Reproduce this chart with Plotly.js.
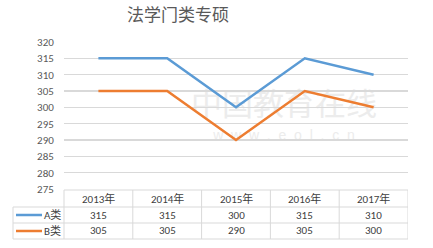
<!DOCTYPE html>
<html>
<head>
<meta charset="utf-8">
<script src="https://cdn.plot.ly/plotly-3.0.1.min.js"></script>
<style>html,body{margin:0;padding:0;background:#fff;}#chart{width:433px;height:248px;}</style>
</head>
<body>
<div id="chart"></div>
<script>
const years = ['2013年', '2014年', '2015年', '2016年', '2017年'];
const seriesA = [315, 315, 300, 315, 310];
const seriesB = [305, 305, 290, 305, 300];
const seriesNames = ['A类', 'B类'];
const seriesColors = ['#5b9bd5', '#ed7d31'];

const W = 433, H = 248;
const L = 64, R = 408, T = 42, B = 189;
const pw = R - L, ph = B - T;
const px = p => (p - L) / pw;
const py = p => (B - p) / ph;
const gridC = '#d9d9d9';
const txtC = '#404040';
const font = 'Calibri, "Liberation Sans", "Noto Sans CJK SC", sans-serif';

const values = [seriesA, seriesB];
const traces = values.map((v, i) => ({
  x: years, y: v, type: 'scatter', mode: 'lines', name: seriesNames[i],
  line: {color: seriesColors[i], width: 2.5}, hoverinfo: 'skip'
}));

const shapes = [];
const annotations = [];
const line = (x0, y0, x1, y1) => shapes.push({type: 'line', xref: 'paper', yref: 'paper',
  x0: x0, x1: x1, y0: py(y0), y1: py(y1), line: {color: gridC, width: 1}});

// watermark (below the lines)
const wm = (cx, cy, w, h, text, size, family) => shapes.push({type: 'rect', layer: 'below',
  xref: 'paper', yref: 'paper', x0: px(cx - w / 2), x1: px(cx + w / 2), y0: py(cy + h / 2), y1: py(cy - h / 2),
  line: {width: 0}, fillcolor: 'rgba(0,0,0,0)',
  label: {text: text, textposition: 'middle center', font: {size: size, color: '#ececec', family: family}}});
wm(284, 106, 210, 28, '中国教育在线', 31, '"Noto Sans CJK SC", sans-serif');
wm(284, 134, 210, 12, 'w&nbsp;&nbsp;w&nbsp;&nbsp;w&nbsp;&nbsp;.&nbsp;&nbsp;e&nbsp;&nbsp;o&nbsp;&nbsp;l&nbsp;&nbsp;.&nbsp;&nbsp;c&nbsp;&nbsp;n', 14, 'Arial, sans-serif');

// table horizontal lines
line(px(L), 190, px(R), 190);
[207, 223, 239].forEach(y => line(px(13), y, px(R), y));
// vertical lines
line(px(13), 207, px(13), 239);
line(px(L), 190, px(L), 239);
years.forEach((y, i) => shapes.push({type: 'line', xref: 'x', yref: 'paper', x0: i + 0.5, x1: i + 0.5,
  y0: py(190), y1: py(239), line: {color: gridC, width: 1}}));

const rowY = [198.5, 215, 231];
years.forEach((yr, i) => {
  annotations.push({xref: 'x', yref: 'paper', x: yr, y: py(rowY[0]), text: yr, showarrow: false,
    font: {size: 11, color: txtC, family: font}, xanchor: 'center', yanchor: 'middle'});
  values.forEach((v, s) => annotations.push({xref: 'x', yref: 'paper', x: yr, y: py(rowY[s + 1]),
    text: String(v[i]), showarrow: false, font: {size: 11, color: txtC, family: font},
    xanchor: 'center', yanchor: 'middle'}));
});
seriesNames.forEach((n, s) => {
  shapes.push({type: 'line', xref: 'paper', yref: 'paper', x0: px(16), x1: px(42),
    y0: py(rowY[s + 1]), y1: py(rowY[s + 1]), line: {color: seriesColors[s], width: 2.5}});
  annotations.push({xref: 'paper', yref: 'paper', x: px(63), y: py(rowY[s + 1]), text: n,
    showarrow: false, font: {size: 11, color: txtC, family: font}, xanchor: 'right', yanchor: 'middle'});
});

const layout = {
  width: W, height: H,
  margin: {l: L, r: W - R, t: T, b: H - B, pad: 0},
  paper_bgcolor: '#ffffff', plot_bgcolor: '#ffffff',
  showlegend: false,
  title: {text: '法学门类专硕', x: 178 / W, xref: 'container', xanchor: 'center',
    y: 1 - 15 / H, yref: 'container', yanchor: 'middle',
    font: {size: 17, color: '#595959', family: '"Noto Sans CJK SC", sans-serif'}},
  xaxis: {type: 'category', range: [-0.5, 4.5], showticklabels: false, showgrid: false,
    zeroline: false, showline: false, ticks: '', fixedrange: true},
  yaxis: {range: [275, 320], dtick: 5, tick0: 275, showgrid: true, gridcolor: gridC, gridwidth: 1.3,
    zeroline: false, showline: false, ticks: 'outside', ticklen: 7, tickcolor: 'rgba(0,0,0,0)',
    tickfont: {size: 11, color: '#595959', family: font}, fixedrange: true},
  shapes: shapes, annotations: annotations
};

Plotly.newPlot('chart', traces, layout, {displayModeBar: false, staticPlot: true});
</script>
</body>
</html>
